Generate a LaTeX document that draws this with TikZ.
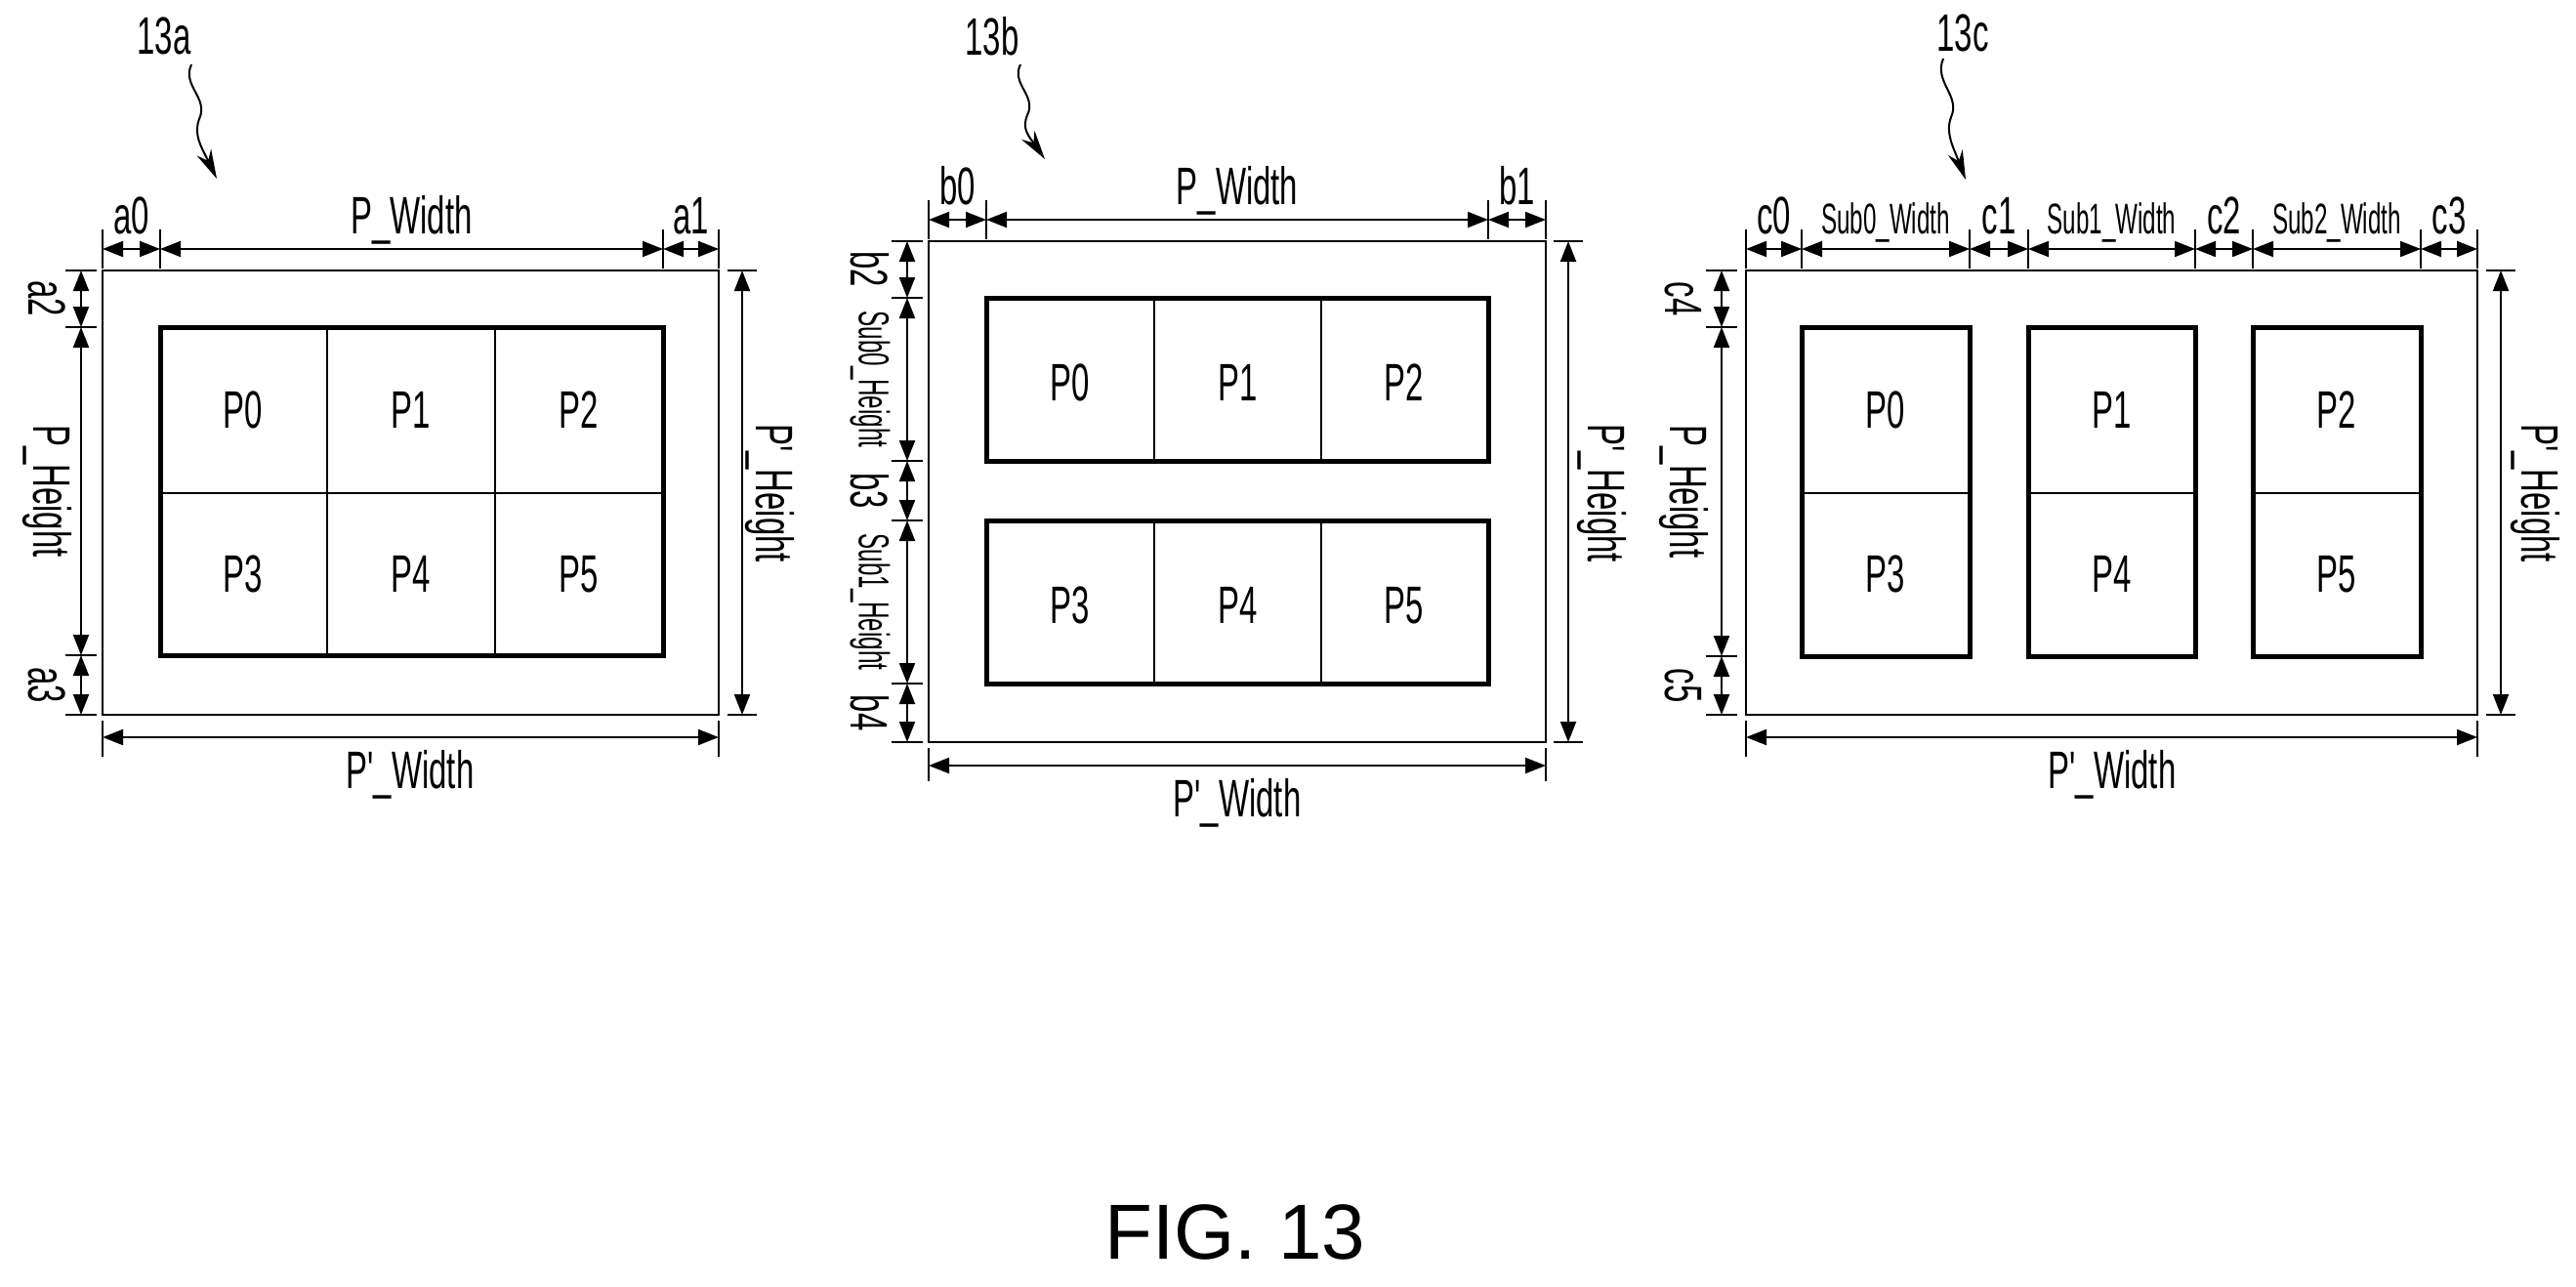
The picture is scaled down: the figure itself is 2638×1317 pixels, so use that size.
\documentclass[tikz,border=0pt]{standalone}
\usepackage{fontspec}
\setmainfont{Liberation Sans}
\newfontfamily\cnd{Liberation Sans}[FakeStretch=0.61]
\newfontfamily\xcnd{Liberation Sans}[FakeStretch=0.55]
\usetikzlibrary{arrows.meta}
\begin{document}
\begin{tikzpicture}[x=1pt,y=-1pt,
  dim/.style={line width=2pt,{Triangle[length=21pt,width=16pt]}-{Triangle[length=21pt,width=16pt]}},
  ext/.style={line width=1.5pt},
  outer/.style={line width=2.5pt},
  inner/.style={line width=5pt},
  grid/.style={line width=2pt},
  lab/.style={font=\cnd\fontsize{54}{58}\selectfont,inner sep=0pt},
  slab/.style={font=\xcnd\fontsize{44}{48}\selectfont,inner sep=0pt},
  plab/.style={font=\cnd\fontsize{54}{58}\selectfont,inner sep=0pt},
  call/.style={line width=2pt,-{Stealth[length=30pt,width=16pt]}}]
\useasboundingbox (0,0) rectangle (2638,1317);
\newcommand\hdimm[5]{% y, x1, x2, label, style
  \draw[ext] (#2,#1-20) -- (#2,#1+20); \draw[ext] (#3,#1-20) -- (#3,#1+20);
  \draw[dim] (#2,#1) -- (#3,#1);
  \node[#5,anchor=base] at ({(#2+#3)/2},#1-16) {#4};}
\newcommand\vdimm[6]{% x, y1, y2, label, style, labelx
  \draw[ext] (#1-16,#2) -- (#1+16,#2); \draw[ext] (#1-16,#3) -- (#1+16,#3);
  \draw[dim] (#1,#2) -- (#1,#3);
  \node[#5,rotate=-90] at (#6,{(#2+#3)/2}) {#4};}
% ---------- 13a ----------
\node[lab] (la) at (168,37) {13a};
\coordinate (sa) at (196,66);
\coordinate (ta) at (222,183);
\draw[call] (sa) .. controls (186,88) and (214,100) .. (204,122) .. controls (198,138) and (206,150) .. (ta);
\draw[outer] (105,277) rectangle (736,732);
\draw[inner] (164,335) rectangle (679,671);
\draw[grid] (335,335) -- (335,671) (507,335) -- (507,671) (164,505) -- (679,505);
\node[plab] (a0n) at (249,420) {P0};
\node[plab] (a1n) at (421,420) {P1};
\node[plab] (a2n) at (593,420) {P2};
\node[plab] (a3n) at (249,588) {P3};
\node[plab] (a4n) at (421,588) {P4};
\node[plab] (a5n) at (593,588) {P5};
\hdimm{255}{105}{164}{a0}{lab}
\hdimm{255}{164}{679}{P\_Width}{lab}
\hdimm{255}{679}{736}{a1}{lab}
\vdimm{83}{277}{335}{a2}{lab}{48}
\vdimm{83}{335}{671}{P\_Height}{lab}{48}
\vdimm{83}{671}{732}{a3}{lab}{48}
\draw[ext] (745,277) -- (775,277); \draw[ext] (745,732) -- (775,732);
\draw[dim] (760,277) -- (760,732);
\node[lab,rotate=-90] at (788,505) {P'\_Height};
\draw[ext] (105,738) -- (105,775); \draw[ext] (736,738) -- (736,775);
\draw[dim] (105,755) -- (736,755);
\node[lab] at (420,793) {P'\_Width};
% ---------- 13b ----------
\node[lab] (lb) at (1016,37) {13b};
\coordinate (sb) at (1045,66);
\coordinate (tb) at (1070,163);
\draw[call] (sb) .. controls (1035,86) and (1062,98) .. (1052,118) .. controls (1046,132) and (1054,140) .. (tb);
\draw[outer] (951,247) rectangle (1583,760);
\draw[inner] (1010,305) rectangle (1524,472);
\draw[inner] (1010,533) rectangle (1524,700);
\draw[grid] (1182,305) -- (1182,472) (1353,305) -- (1353,472)
            (1182,533) -- (1182,700) (1353,533) -- (1353,700);
\node[plab] at (1096,392) {P0};
\node[plab] at (1268,392) {P1};
\node[plab] at (1438,392) {P2};
\node[plab] at (1096,620) {P3};
\node[plab] at (1268,620) {P4};
\node[plab] at (1438,620) {P5};
\hdimm{225}{951}{1010}{b0}{lab}
\hdimm{225}{1010}{1524}{P\_Width}{lab}
\hdimm{225}{1524}{1583}{b1}{lab}
\vdimm{929}{247}{305}{b2}{lab}{891}
\vdimm{929}{305}{472}{Sub0\_Height}{slab}{891}
\vdimm{929}{472}{533}{b3}{lab}{891}
\vdimm{929}{533}{700}{Sub1\_Height}{slab}{891}
\vdimm{929}{700}{760}{b4}{lab}{891}
\draw[ext] (1591,247) -- (1621,247); \draw[ext] (1591,760) -- (1621,760);
\draw[dim] (1606,247) -- (1606,760);
\node[lab,rotate=-90] at (1640,505) {P'\_Height};
\draw[ext] (951,766) -- (951,800); \draw[ext] (1583,766) -- (1583,800);
\draw[dim] (951,784) -- (1583,784);
\node[lab] at (1267,822) {P'\_Width};
% ---------- 13c ----------
\node[lab] (lc) at (2010,34) {13c};
\coordinate (sc) at (1990,60);
\coordinate (tc) at (2013,184);
\draw[call] (sc) .. controls (1980,84) and (2008,98) .. (1998,120) .. controls (1992,136) and (2000,150) .. (tc);
\draw[outer] (1788,277) rectangle (2537,732);
\foreach \l/\r/\ta/\tb in {1845/2017/P0/P3,2077/2248/P1/P4,2307/2479/P2/P5}{
  \draw[inner] (\l,335) rectangle (\r,672);
  \draw[grid] (\l,505) -- (\r,505);
  \node[plab] at ({(\l+\r)/2},420) {\ta};
  \node[plab] at ({(\l+\r)/2},588) {\tb};
}
\hdimm{255}{1788}{1845}{c0}{lab}
\hdimm{255}{1845}{2017}{Sub0\_Width}{slab}
\hdimm{255}{2017}{2077}{c1}{lab}
\hdimm{255}{2077}{2248}{Sub1\_Width}{slab}
\hdimm{255}{2248}{2307}{c2}{lab}
\hdimm{255}{2307}{2479}{Sub2\_Width}{slab}
\hdimm{255}{2479}{2537}{c3}{lab}
\vdimm{1763}{277}{335}{c4}{lab}{1724}
\vdimm{1763}{335}{672}{P\_Height}{lab}{1724}
\vdimm{1763}{672}{732}{c5}{lab}{1724}
\draw[ext] (2546,277) -- (2576,277); \draw[ext] (2546,732) -- (2576,732);
\draw[dim] (2561,277) -- (2561,732);
\node[lab,rotate=-90] at (2596,505) {P'\_Height};
\draw[ext] (1788,738) -- (1788,775); \draw[ext] (2537,738) -- (2537,775);
\draw[dim] (1788,755) -- (2537,755);
\node[lab] at (2163,793) {P'\_Width};
% ---------- caption ----------
\node[font=\fontsize{80}{90}\selectfont,inner sep=0pt] (fig) at (1265,1262) {FIG. 13};
\end{tikzpicture}
\end{document}
